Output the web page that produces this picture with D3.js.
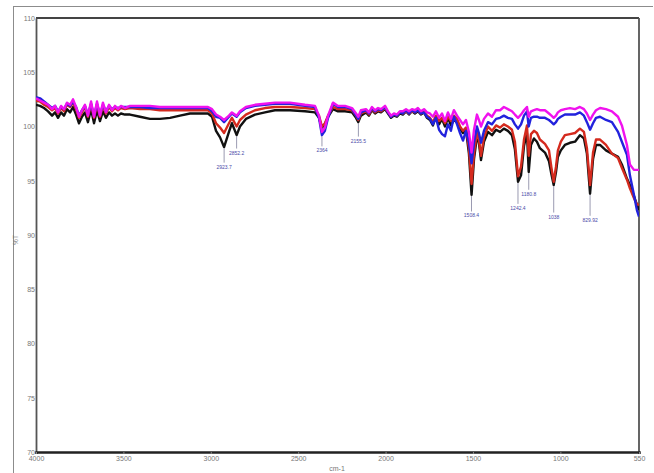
<!DOCTYPE html>
<html>
<head>
<meta charset="utf-8">
<script src="https://cdn.jsdelivr.net/npm/d3@7"></script>
<style>
  body { margin: 0; background: #fff; }
  svg { display: block; }
</style>
</head>
<body>
<div id="chart"></div>
<script>
// wavenumbers (cm-1)
var wavenumber = [
  4000,3977,3954,3931,3908,3891,3874,3857,3840,3823,3805,3788,3771,3754,3737,3720,3703,3685,3668,3651,3634,3617,3600,3582,3565,3548,3531,3514,3491,3462,
  3405,3348,3291,3233,3176,3119,3062,3016,2993,2970,2947,2924,2896,2879,2852,2833,2799,2747,2690,2633,2547,2461,2404,2381,2364,2347,2329,2301,2272,2232,2192,2169,2156,2141,
  2112,2095,2078,2060,2043,2026,2003,1986,1969,1952,1935,1918,1901,1883,1866,1849,1832,1815,1798,1780,1763,
  1746,1729,1712,1694,1677,1660,1643,1626,1609,1591,1574,1557,1540,1523,1508,1494,1477,1466,1454,1437,1414,1391,1368,1345,1323,1300,1277,1260,1242,1225,1208,1191,1181,1168,1151,1134,1117,1088,1065,1051,1038,1025,1014,997,974,945,916,888,865,848,830,813,796,773,739,705,670,648,619,602,579,562,550
];

var blackT = [
  102.0,101.9,101.7,101.4,101.0,101.3,100.8,101.3,101.0,101.6,101.3,101.8,101.1,100.3,100.9,101.3,100.4,101.6,100.3,101.5,100.5,101.4,100.8,101.3,101.0,101.2,101.0,101.2,101.1,101.1,
  100.9,100.7,100.7,100.8,101.0,101.2,101.2,101.2,100.9,99.6,99.0,98.1,99.5,100.3,99.2,100.0,100.7,101.1,101.3,101.5,101.5,101.4,101.3,100.8,99.9,100.2,100.9,101.6,101.4,101.4,101.3,100.8,100.4,101.0,
  101.3,101.0,101.5,101.2,101.4,101.3,101.6,101.2,100.8,101.0,100.9,101.2,101.1,101.4,101.1,101.4,101.2,101.4,101.1,101.3,100.8,
  100.6,100.1,100.9,100.2,100.7,100.0,100.8,100.1,100.6,100.4,99.8,99.4,99.7,97.5,93.7,97.0,99.1,98.5,96.9,98.6,99.5,99.2,99.7,99.5,99.8,99.6,99.2,97.9,94.9,95.5,98.2,99.4,95.8,98.3,98.9,98.6,98.0,97.6,96.8,95.6,94.6,95.8,97.2,97.8,98.3,98.5,98.6,99.2,98.9,97.5,93.8,97.0,98.3,98.3,97.8,97.5,97.2,96.5,95.2,94.6,93.6,92.8,92.3
];

var redT = [
  102.4,102.3,102.0,101.8,101.5,101.7,101.2,101.7,101.4,102.0,101.8,102.2,101.6,100.8,101.3,101.8,100.9,102.0,100.8,102.0,100.9,101.9,101.2,101.8,101.4,101.7,101.5,101.7,101.6,101.7,
  101.6,101.6,101.5,101.5,101.5,101.5,101.5,101.5,101.2,100.3,99.9,99.4,100.3,100.8,100.0,100.6,101.1,101.5,101.7,101.8,101.8,101.7,101.6,101.0,100.0,100.3,101.0,101.8,101.6,101.6,101.5,101.0,100.6,101.2,
  101.4,101.1,101.6,101.3,101.5,101.4,101.7,101.3,100.9,101.1,101.0,101.3,101.2,101.4,101.2,101.4,101.3,101.5,101.2,101.4,101.0,
  100.8,100.4,101.0,100.5,100.8,100.3,100.9,100.5,101.0,100.7,100.0,99.6,99.9,98.0,94.7,97.5,99.5,98.8,97.3,99.0,100.0,99.6,100.1,99.9,100.2,100.0,99.7,98.6,95.4,96.3,98.8,100.1,97.3,99.3,99.6,99.4,98.8,98.4,97.8,96.2,94.9,96.3,97.8,98.6,99.2,99.3,99.4,99.8,99.5,98.0,94.6,97.6,98.8,98.8,98.3,97.5,97.1,96.2,95.1,94.3,93.4,92.8,92.8
];

var blueT = [
  102.7,102.6,102.3,102.0,101.7,101.9,101.4,101.8,101.6,102.1,101.9,102.3,101.8,101.0,101.5,101.9,101.1,102.1,101.0,102.1,101.1,102.0,101.4,101.9,101.6,101.8,101.7,101.8,101.8,101.8,
  101.8,101.7,101.7,101.7,101.7,101.7,101.7,101.7,101.4,100.9,100.8,100.4,100.9,101.2,100.9,101.3,101.7,101.9,102.0,102.1,102.1,101.9,101.8,100.8,99.2,99.6,100.8,102.1,101.8,101.8,101.6,101.0,100.7,101.3,
  101.5,101.2,101.7,101.4,101.6,101.5,101.8,101.3,100.9,101.1,101.0,101.3,101.2,101.5,101.2,101.5,101.3,101.5,101.2,101.3,100.9,
  100.7,100.2,100.8,99.7,99.3,99.1,100.2,99.6,100.9,100.2,99.4,98.7,99.6,98.5,96.6,98.5,100.0,99.4,98.5,99.6,100.4,100.2,100.7,100.8,101.0,100.8,100.7,100.2,99.8,100.2,101.0,101.4,100.0,100.8,100.9,100.9,100.8,100.8,100.6,100.4,100.2,100.4,100.7,100.9,101.1,101.1,101.1,101.3,101.0,100.4,99.7,100.3,100.8,100.9,100.6,100.4,99.5,98.6,97.4,95.5,93.7,92.3,91.7
];

var magentaT = [
  102.6,102.4,102.2,102.0,101.6,101.9,101.3,101.9,101.6,102.2,102.0,102.5,101.8,100.9,101.5,102.0,101.0,102.3,100.9,102.3,101.0,102.2,101.3,102.0,101.5,101.9,101.6,101.9,101.7,101.9,
  101.9,101.9,101.8,101.8,101.8,101.8,101.8,101.8,101.6,101.1,100.9,100.6,101.0,101.3,101.0,101.4,101.8,102.0,102.1,102.2,102.2,102.0,101.9,101.0,99.5,99.9,101.0,102.2,101.9,101.9,101.7,101.2,100.9,101.5,
  101.6,101.3,101.8,101.5,101.7,101.6,101.9,101.4,101.0,101.2,101.1,101.4,101.4,101.6,101.4,101.6,101.5,101.7,101.4,101.6,101.3,
  101.2,100.9,101.4,100.8,101.2,100.5,101.3,100.7,101.5,101.0,100.6,100.2,100.6,99.5,97.6,99.7,101.1,100.6,100.0,100.7,101.2,100.9,101.5,101.5,101.8,101.6,101.4,101.1,100.8,101.1,101.5,101.8,100.9,101.4,101.5,101.6,101.5,101.5,101.2,101.0,100.8,101.0,101.3,101.5,101.6,101.7,101.6,101.8,101.6,101.2,100.6,101.1,101.5,101.7,101.6,101.4,100.9,100.1,98.3,96.5,96.0,96.0,96.0
];

// peak picks
var peakWn = [2923.7, 2852.2, 2364, 2155.5, 1508.4, 1242.4, 1180.8, 1038, 829.92];
var peakText = ["2923.7", "2852.2", "2364", "2155.5", "1508.4", "1242.4", "1180.8", "1038", "829.92"];
var peakTop = [98.0, 99.1, 99.1, 100.3, 93.6, 94.8, 95.7, 94.5, 93.7];
var peakLabel = [96.3, 97.6, 97.8, 98.7, 91.8, 92.5, 93.8, 91.7, 91.4];

var xTicks = [4000, 3500, 3000, 2500, 2000, 1500, 1000, 550];
var yTicks = [70, 75, 80, 85, 90, 95, 100, 105, 110];

var svgwidth = 654, svgheight = 473;
var plotLeft = 36, plotRight = 639, plotTop = 18, plotBottom = 452;
var tickFont = "'Liberation Sans Narrow', 'Arial Narrow', 'Liberation Sans', sans-serif";

var svg = d3.select("#chart").append("svg")
    .attr("width", svgwidth)
    .attr("height", svgheight);

// outer picture frame
svg.append("line").attr("x1", 13.5).attr("x2", 13.5).attr("y1", 6).attr("y2", svgheight)
    .attr("stroke", "#8c8c8c").attr("stroke-width", 1);
svg.append("line").attr("x1", 13).attr("x2", 653).attr("y1", 6.5).attr("y2", 6.5)
    .attr("stroke", "#8c8c8c").attr("stroke-width", 1);

var xScale = d3.scaleLinear().domain([4000, 550]).range([plotLeft, plotRight]);
var yScale = d3.scaleLinear().domain([70, 110]).range([plotBottom, plotTop]);

// top and right border of plot
svg.append("line").attr("x1", plotLeft).attr("x2", plotRight).attr("y1", plotTop).attr("y2", plotTop)
    .attr("stroke", "#444").attr("stroke-width", 2);
svg.append("line").attr("x1", plotRight).attr("x2", plotRight).attr("y1", plotTop).attr("y2", plotBottom)
    .attr("stroke", "#555").attr("stroke-width", 1.8);

var xAxis = d3.axisBottom(xScale).tickValues(xTicks).tickSize(2).tickPadding(2)
    .tickFormat(d3.format("d"));
var yAxis = d3.axisLeft(yScale).tickValues(yTicks).tickSize(0).tickPadding(1)
    .tickFormat(d3.format("d"));

var gy = svg.append("g")
    .attr("transform", "translate(" + plotLeft + ",0)")
    .call(yAxis);
gy.select(".domain").attr("stroke", "#555").attr("stroke-width", 1.8);
gy.selectAll("text").attr("fill", "#777").style("font-size", "7px").style("font-family", tickFont);

var gx = svg.append("g")
    .attr("transform", "translate(0," + plotBottom + ")")
    .call(xAxis);
gx.select(".domain").attr("stroke", "#222").attr("stroke-width", 2.5);
gx.selectAll(".tick line").attr("stroke", "#888");
gx.selectAll("text").attr("fill", "#777").style("font-size", "7px").style("font-family", tickFont);

// axis titles
svg.append("text")
    .attr("transform", "translate(18,240) rotate(-90)")
    .attr("text-anchor", "middle")
    .attr("fill", "#777")
    .style("font-size", "6.5px")
    .style("font-family", tickFont)
    .text("%T");

svg.append("text")
    .attr("x", 337).attr("y", 471)
    .attr("text-anchor", "middle")
    .attr("fill", "#777")
    .style("font-size", "7px")
    .style("font-family", tickFont)
    .text("cm-1");

// spectra
var line = d3.line()
    .x(function (d) { return xScale(d[0]); })
    .y(function (d) { return yScale(d[1]); });

var series = [
    { values: blackT, color: "#111111" },
    { values: redT, color: "#d42a1e" },
    { values: blueT, color: "#2222dd" },
    { values: magentaT, color: "#f012ee" }
];

svg.append("defs").append("clipPath").attr("id", "clip")
    .append("rect").attr("x", plotLeft).attr("y", plotTop)
    .attr("width", plotRight - plotLeft).attr("height", plotBottom - plotTop);

var plot = svg.append("g").attr("clip-path", "url(#clip)");

series.forEach(function (s) {
    var pts = wavenumber.map(function (w, i) { return [w, s.values[i]]; });
    plot.append("path")
        .datum(pts)
        .attr("d", line)
        .attr("fill", "none")
        .attr("stroke", s.color)
        .attr("stroke-width", 2.4)
        .attr("stroke-linejoin", "round");
});

// peak markers
peakWn.forEach(function (w, i) {
    svg.append("line")
        .attr("x1", xScale(w)).attr("x2", xScale(w))
        .attr("y1", yScale(peakTop[i])).attr("y2", yScale(peakLabel[i]) - 4)
        .attr("stroke", "#8f8fa8").attr("stroke-width", 0.9);
    svg.append("text")
        .attr("x", xScale(w)).attr("y", yScale(peakLabel[i]) + 2)
        .attr("text-anchor", "middle")
        .attr("fill", "#4a4aa8")
        .style("font-size", "5px")
        .style("font-family", tickFont)
        .text(peakText[i]);
});
</script>
</body>
</html>
